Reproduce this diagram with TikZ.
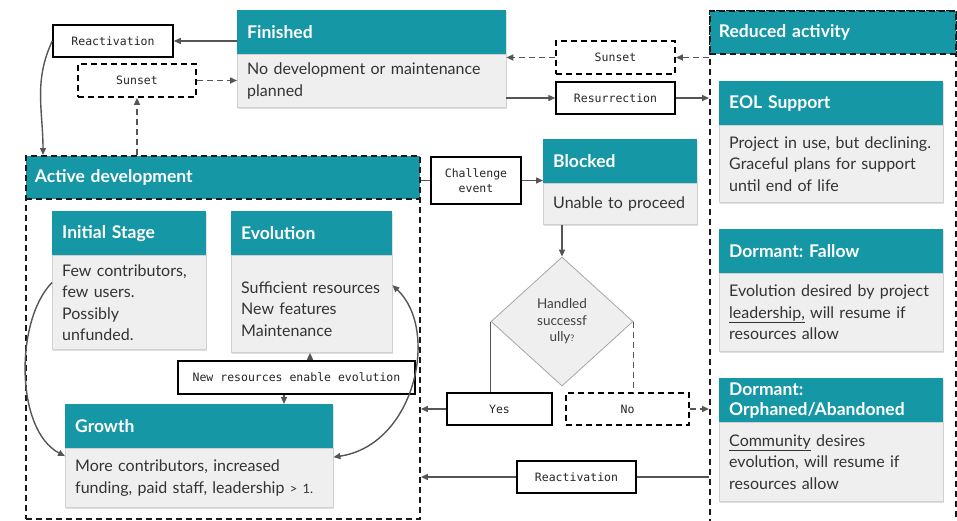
\documentclass[tikz,border=0pt]{standalone}
\usepackage{fontspec}
\setmainfont{Lato}
\newfontfamily\monof{DejaVu Sans Mono}
\usetikzlibrary{arrows.meta,shapes.geometric,shadows}
\frenchspacing

\definecolor{tealhead}{HTML}{1597A5}
\definecolor{cardbody}{HTML}{EFEFEF}
\definecolor{cardline}{HTML}{D0D0D0}
\definecolor{conn}{HTML}{555555}
\definecolor{bodytext}{HTML}{333333}

\tikzset{
  hdr/.style={anchor=north west, fill=tealhead, text=white, inner xsep=10pt, inner ysep=0pt,
    align=left, font=\fontsize{17.5}{20}\selectfont\bfseries,
    drop shadow={shadow xshift=0.8pt, shadow yshift=-1.8pt, opacity=0.25}},
  bdy/.style={anchor=north west, fill=cardbody, draw=cardline, line width=0.4pt, text=bodytext,
    inner xsep=10pt, inner ysep=0pt, align=left, font=\fontsize{16}{21.5}\selectfont,
    drop shadow={shadow xshift=0.8pt, shadow yshift=-1.8pt, opacity=0.25}},
  grpbox/.style={anchor=north west, draw=black!90, line width=1.9pt, dash pattern=on 6pt off 4pt},
  grphdr/.style={anchor=north west, fill=tealhead, draw=black!90, line width=1.9pt,
    dash pattern=on 6pt off 4pt, text=white, inner xsep=9pt, align=left,
    font=\fontsize{17.5}{20}\selectfont\bfseries},
  lbl/.style={draw=black, line width=1.5pt, fill=white, align=center,
    font=\monof\fontsize{11.5}{15}\selectfont, text=black!85, inner sep=0pt},
  dlbl/.style={lbl, line width=1.8pt, dash pattern=on 6pt off 4pt},
  arr/.style={draw=conn, line width=1.4pt, -{Triangle[length=7pt,width=6pt]}},
  darr/.style={arr, line width=1.7pt, dash pattern=on 6pt off 4pt},
  ln/.style={draw=conn, line width=1.4pt},
  dln/.style={ln, line width=1.7pt, dash pattern=on 6pt off 4pt},
}

% card: name, x, y, width, header height, body height, title, body
\newcommand\card[8]{%
  \node[hdr, minimum width=#4, minimum height=#5, text width=#4-20] (#1h) at (#2,#3) {#7};
  \node[bdy, minimum width=#4, minimum height=#6, text width=#4-20] (#1b) at (#1h.south west) {#8};
}

\begin{document}
\begin{tikzpicture}[x=1pt,y=-1pt]
\useasboundingbox (0,0) rectangle (957,520);

% group containers
\node[grpbox, minimum width=394, minimum height=363] (actbox) at (25,155) {};
\node[grphdr, minimum width=394, minimum height=43, text width=376] (acth) at (25,155) {Active development};
\node[grpbox, minimum width=246, minimum height=520] (redbox) at (709,10) {};
\node[grphdr, minimum width=246, minimum height=43, text width=228] (redh) at (709,10) {Reduced activity};

% state cards
\card{fin}{237}{10}{269}{44}{53}{Finished}{No development or maintenance\\planned}
\card{init}{52}{211}{154}{44}{94}{Initial Stage}{Few contributors,\\few users.\\Possibly\\unfunded.}
\card{evo}{231}{211}{161}{44}{97}{Evolution}{\mbox{}\\Sufficient resources\\New features\\Maintenance}
\card{gro}{65}{404}{268}{44}{59}{Growth}{More contributors, increased\\funding, paid staff, leadership {\fontsize{13}{14}\selectfont> 1.}}
\card{blk}{543}{139}{154}{44}{41}{Blocked}{Unable to proceed}
\card{eol}{719}{81}{224}{44}{77}{EOL Support}{Project in use, but declining.\\Graceful plans for support\\until end of life}
\card{fal}{719}{229}{224}{44}{78}{Dormant: Fallow}{Evolution desired by project\\\underline{leadership,} will resume if\\resources allow}
\card{orp}{719}{378}{224}{44}{79}{Dormant:\\Orphaned/Abandoned}{\underline{Community} desires\\evolution, will resume if\\resources allow}

% decision
\node[diamond, fill=cardbody, draw=black!35, line width=0.8pt, minimum width=142, minimum height=129,
  inner sep=0pt, align=center, text=black!75, font=\fontsize{13.5}{16.5}\selectfont] (dec) at (562,321.5)
  {Handled\\successf\\ully{\fontsize{9}{10}\selectfont?}};

% transition labels
\node[lbl, minimum width=120, minimum height=32] (react1) at (113,41) {Reactivation};
\node[dlbl, minimum width=118, minimum height=33] (sun1) at (137,80.5) {Sunset};
\node[dlbl, minimum width=119, minimum height=33] (sun2) at (615.5,57.5) {Sunset};
\node[lbl, minimum width=119, minimum height=32] (res) at (615.5,98) {Resurrection};
\node[lbl, minimum width=90, minimum height=47] (chal) at (476,180.5) {Challenge\\event};
\node[lbl, minimum width=237, minimum height=33] (nres) at (296.5,377.5) {New resources enable evolution};
\node[lbl, minimum width=105, minimum height=32] (yes) at (499.5,409) {Yes};
\node[dlbl, minimum width=123, minimum height=32] (no) at (627.5,409) {No};
\node[lbl, minimum width=119, minimum height=32] (react2) at (576.5,477) {Reactivation};

% connectors around Finished
\draw[arr] (react1.east -| finh.west) -- (react1.east);
\draw[darr] (sun1.east) -- (sun1.east -| finb.west);
\draw[darr] (sun1.south |- acth.north) -- (sun1.south);
\draw[arr] (react1.west) to[out=245,in=90] ([xshift=18pt]acth.north west);
\draw[darr] (sun2.east -| redh.west) -- (sun2.east);
\draw[darr] (sun2.west) -- (sun2.west -| finb.east);
\draw[arr] (res.west -| finb.east) -- (res.west);
\draw[arr] (res.east) -- (res.east -| redbox.west);

% challenge path
\draw[ln] (chal.west -| acth.east) -- (chal.west);
\draw[arr] (chal.east) -- (chal.east -| blkh.west);
\draw[arr] (blkb.south -| dec.north) -- (dec.north);
\draw[ln] (dec.west) -- (dec.west |- yes.north);
\draw[arr] (yes.west) -- (yes.west -| actbox.east);
\draw[dln] (dec.east) -- (dec.east |- no.north);
\draw[darr] (no.east) -- (no.east -| redbox.west);
\draw[ln] (react2.east -| redbox.west) -- (react2.east);
\draw[arr] (react2.west) -- (react2.west -| actbox.east);

% inside active development
\draw[arr] ([yshift=20pt]initb.west) .. controls (15,320) and (15,430) .. ([yshift=22pt]grob.west);
\draw[arr, {Triangle[length=7pt,width=6pt]}-{Triangle[length=7pt,width=6pt]}]
  ([yshift=21pt]grob.east) .. controls (415,445) and (440,330) .. ([yshift=19pt]evob.east);
\draw[arr] (nres.north -| 310,0) -- (evob.south -| 310,0);
\draw[arr] (nres.south -| 284,0) -- (groh.north -| 284,0);
\end{tikzpicture}
\end{document}
